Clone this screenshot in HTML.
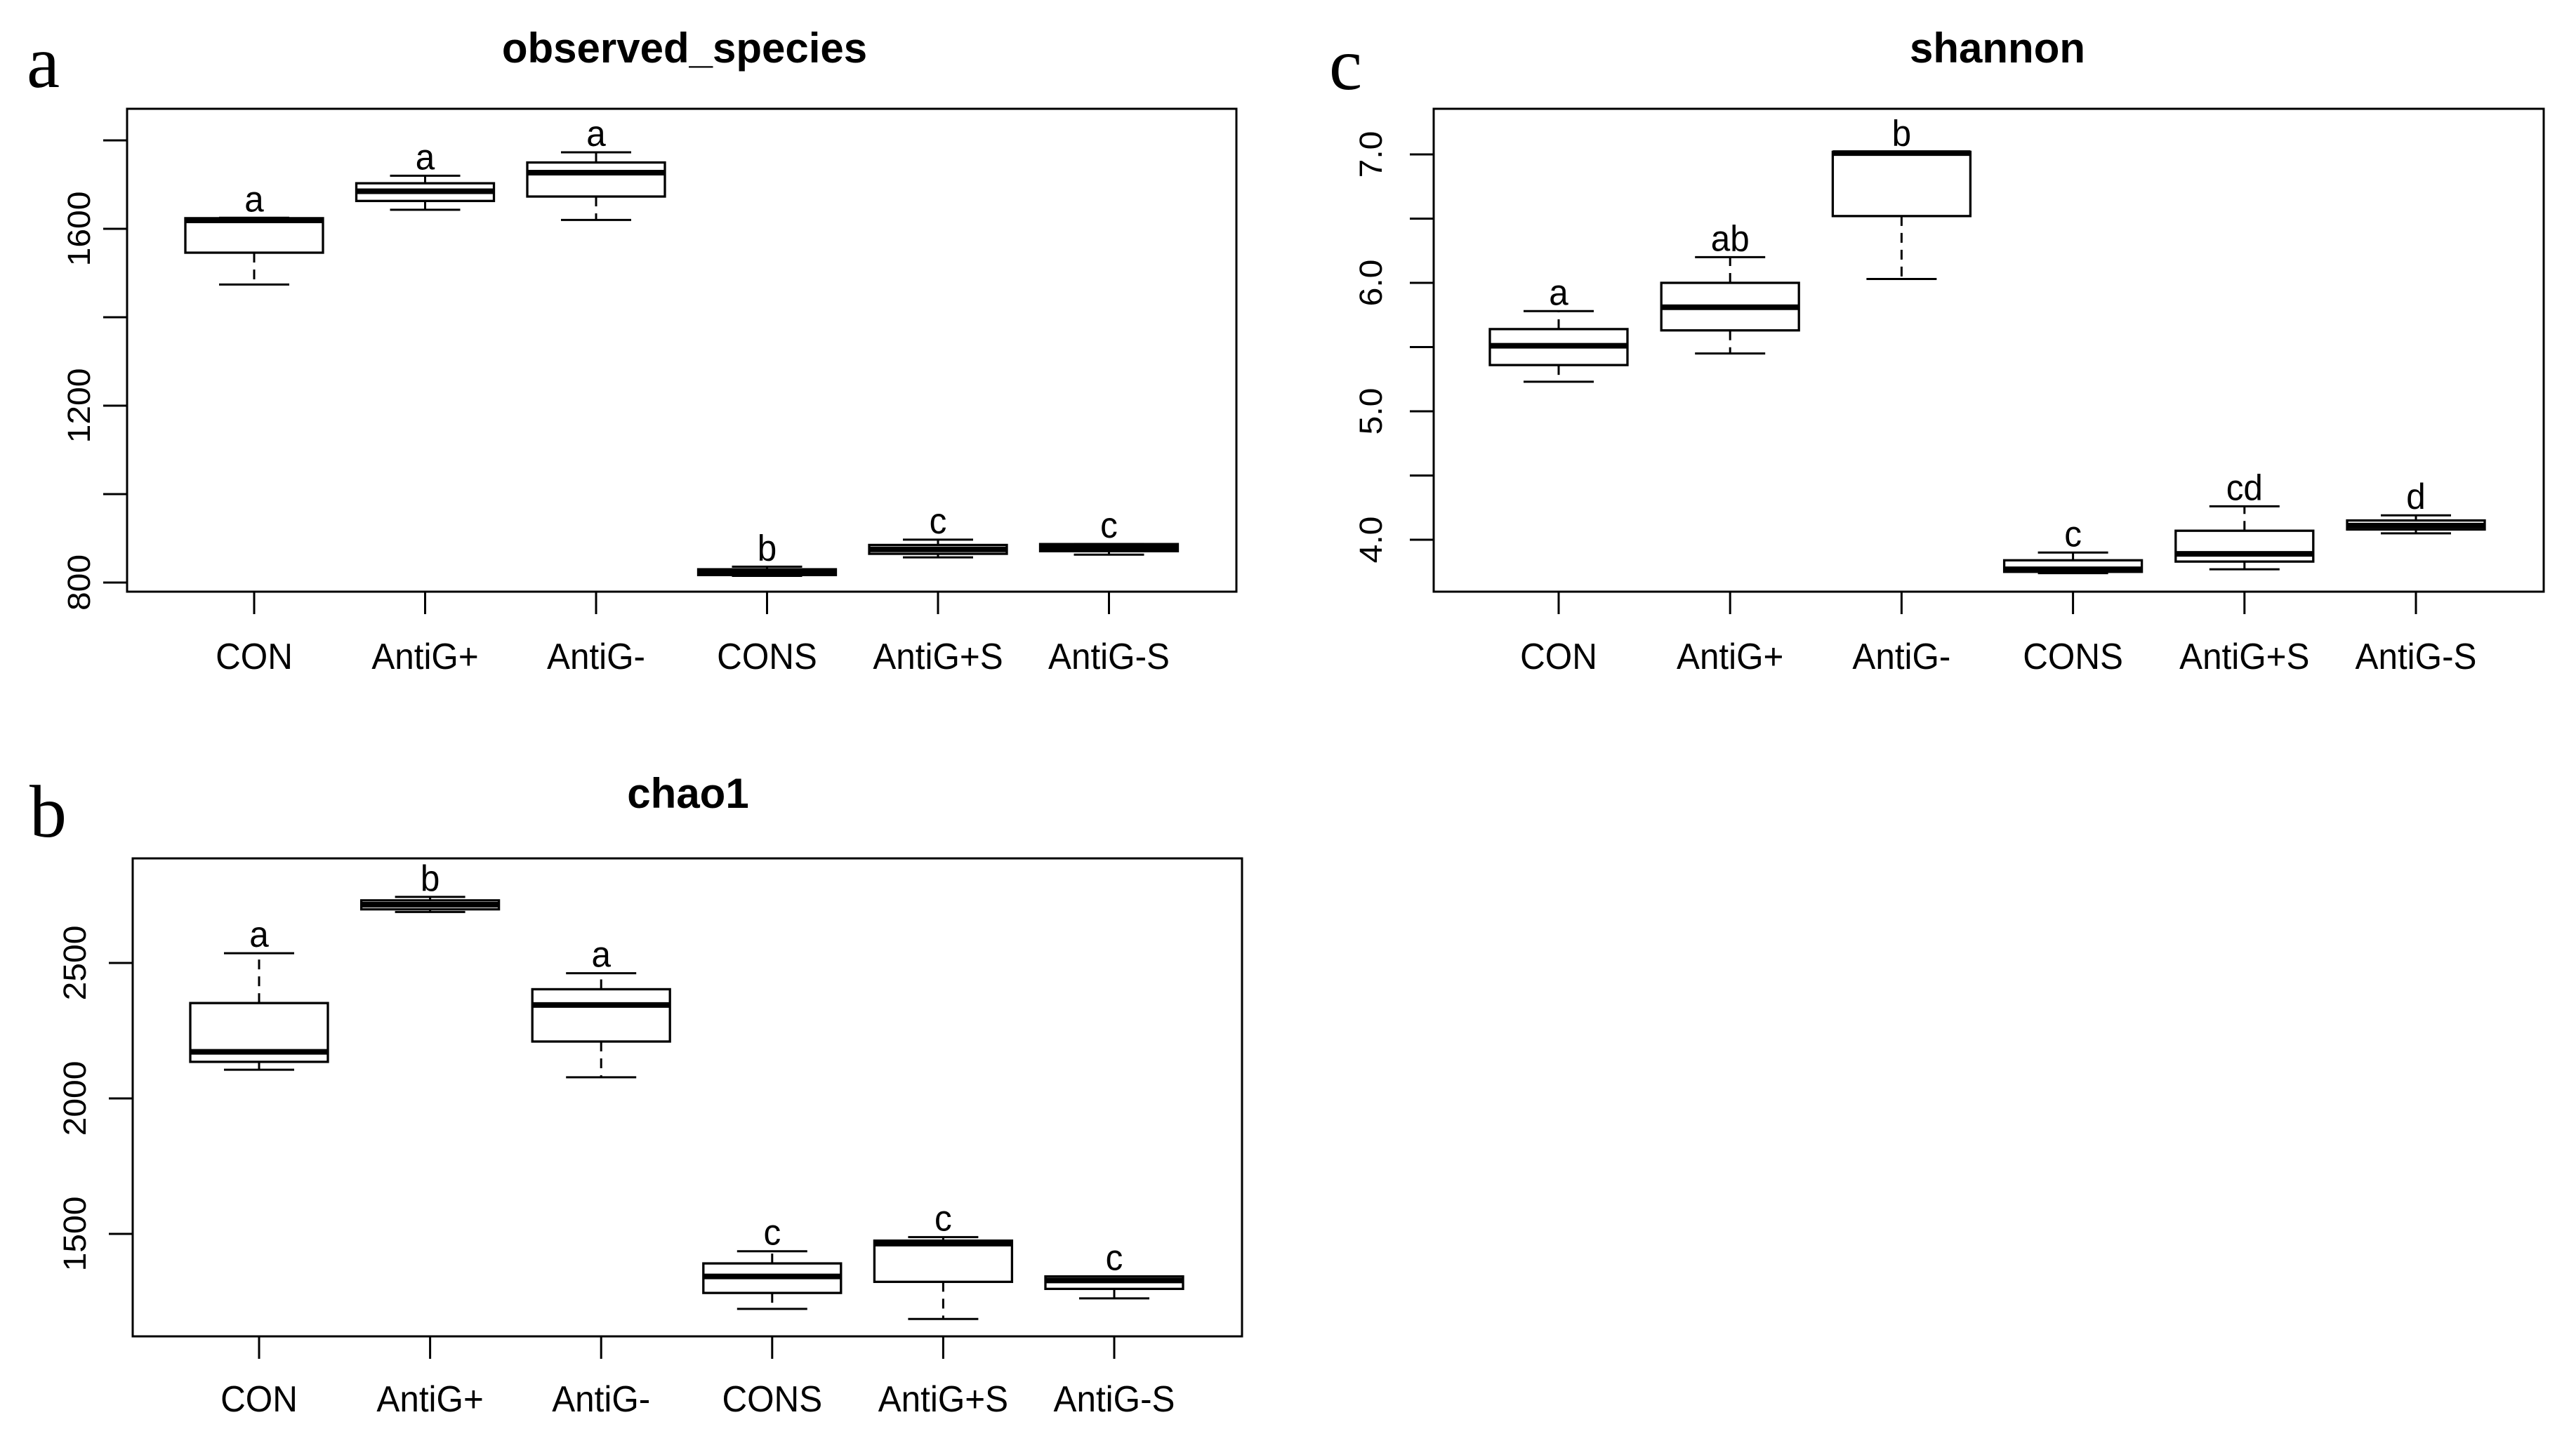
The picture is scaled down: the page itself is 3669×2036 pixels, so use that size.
<!DOCTYPE html>
<html><head><meta charset="utf-8"><style>
html,body{margin:0;padding:0;background:#fff;}
svg{display:block;}
text{font-family:"Liberation Sans",sans-serif;fill:#000;}
</style></head><body>
<svg id="chart" width="3669" height="2036" viewBox="0 0 3669 2036" xmlns="http://www.w3.org/2000/svg"></svg>
<script>
// ---- shared categories ----
const categories = ["CON","AntiG+","AntiG-","CONS","AntiG+S","AntiG-S"];

// ---- panel a: observed_species ----
const obsLow   = [1474,1643,1620,815,857,863];
const obsQ1    = [1546,1663,1673,817,865,871];
const obsMed   = [1619,1685,1727,824,875,879];
const obsQ3    = [1624,1703,1750,830,885,887];
const obsHigh  = [1625,1720,1773,836,897,887];
const obsLetters = ["a","a","a","b","c","c"];
const obsTicks = [800,1000,1200,1400,1600,1800];
const obsTickLabels = ["800","","1200","","1600",""];

// ---- panel b: chao1 ----
const chaoLow  = [2106,2688,2078,1223,1186,1262];
const chaoQ1   = [2135,2698,2210,1282,1323,1297];
const chaoMed  = [2172,2715,2345,1343,1464,1328];
const chaoQ3   = [2352,2731,2403,1391,1475,1343];
const chaoHigh = [2536,2744,2462,1436,1488,1343];
const chaoLetters = ["a","b","a","c","c","c"];
const chaoTicks = [1500,2000,2500];
const chaoTickLabels = ["1500","2000","2500"];

// ---- panel c: shannon ----
const shLow  = [5.23,5.45,6.03,3.74,3.77,4.05];
const shQ1   = [5.36,5.63,6.52,3.75,3.83,4.08];
const shMed  = [5.51,5.81,7.01,3.77,3.89,4.11];
const shQ3   = [5.64,6.00,7.02,3.84,4.07,4.15];
const shHigh = [5.78,6.20,7.02,3.90,4.26,4.19];
const shLetters = ["a","ab","b","c","cd","d"];
const shTicks = [4.0,4.5,5.0,5.5,6.0,6.5,7.0];
const shTickLabels = ["4.0","","5.0","","6.0","","7.0"];

const NS = "http://www.w3.org/2000/svg";
const svg = document.getElementById("chart");

function mk(tag, attrs, parent){
  const e = document.createElementNS(NS, tag);
  for (const k in attrs) e.setAttribute(k, attrs[k]);
  (parent||svg).appendChild(e);
  return e;
}
function txt(parent, x, y, s, size, opts){
  opts = opts||{};
  const sx = opts.sx || 0.95;
  const t = mk("text", {"font-size":size, "text-anchor":opts.anchor||"middle",
    transform:"translate("+x+","+y+") "+(opts.rot?"rotate(-90) scale(1,"+sx+")":"scale("+sx+",1)")}, parent);
  if (opts.bold) t.setAttribute("font-weight","bold");
  if (opts.serif) t.setAttribute("style","font-family:'Liberation Serif',serif");
  t.textContent = s;
  return t;
}

function panel(cfg){
  const g = mk("g", {});
  
  
  const y = v => cfg.y0 + (v - cfg.v0) / (cfg.v1 - cfg.v0) * (cfg.y1 - cfg.y0);
  const x = i => cfg.gx0 + i * cfg.gdx;

  const pl = txt(g, cfg.letterX, cfg.letterY, cfg.letter, 106, {anchor:"start", serif:true, sx:1});
  
  
  const tt = txt(g, cfg.titleX, cfg.titleY, cfg.title, 60, {bold:true, sx:1});
  
  

  const fr = mk("rect", {x:cfg.left, y:cfg.top, width:cfg.right-cfg.left, height:cfg.bottom-cfg.top, fill:"none", stroke:"#000", "stroke-width":3}, g);
  
  

  // y axis
  const ya = mk("g", {}, g);
  
  
  cfg.ticks.forEach((v,i) => {
    const ty = y(v);
    const tk = mk("line", {x1:cfg.left-34, x2:cfg.left, y1:ty, y2:ty, stroke:"#000", "stroke-width":3}, ya);
    
    
    if (cfg.tickLabels[i]) {
      const tl = txt(ya, cfg.ylabX, ty, cfg.tickLabels[i], 48, {rot:true});
      
      
    }
  });

  // x axis
  const xa = mk("g", {}, g);
  
  
  categories.forEach((c,i) => {
    const tk = mk("line", {x1:x(i), x2:x(i), y1:cfg.bottom, y2:cfg.bottom+32, stroke:"#000", "stroke-width":3}, xa);
    
    
    const tl = txt(xa, x(i), cfg.xlabY, c, 52);
    
    
  });

  // boxes
  const hw = 98, cw = 50;
  categories.forEach((c,i) => {
    const bg = mk("g", {}, g);
    
    
    const cx = x(i);
    const yl = y(cfg.low[i]), y1 = y(cfg.q1[i]), ym = y(cfg.med[i]), y3 = y(cfg.q3[i]), yh = y(cfg.high[i]);
    mk("line", {x1:cx, x2:cx, y1:y1, y2:yl, stroke:"#000", "stroke-width":3, "stroke-dasharray":"14 10"}, bg);
    mk("line", {x1:cx, x2:cx, y1:y3, y2:yh, stroke:"#000", "stroke-width":3, "stroke-dasharray":"14 10"}, bg);
    mk("line", {x1:cx-cw, x2:cx+cw, y1:yl, y2:yl, stroke:"#000", "stroke-width":3}, bg);
    mk("line", {x1:cx-cw, x2:cx+cw, y1:yh, y2:yh, stroke:"#000", "stroke-width":3}, bg);
    mk("rect", {x:cx-hw, y:y3, width:2*hw, height:Math.max(0.5, y1-y3), fill:"#fff", stroke:"#000", "stroke-width":3.3}, bg);
    mk("line", {x1:cx-hw, x2:cx+hw, y1:ym, y2:ym, stroke:"#000", "stroke-width":8}, bg);
    const lt = txt(bg, cx, Math.min(yh, y3) - 9, cfg.letters[i], 52);
    
    
  });
}

panel({name:"panel-a-observed-species", letter:"a", letterX:38, letterY:124, title:"observed_species", titleX:975, titleY:89,
  left:181, right:1761, top:155, bottom:843, v0:800, v1:1600, y0:830, y1:326,
  gx0:362, gdx:243.5, ylabX:128, xlabY:953, ticks:obsTicks, tickLabels:obsTickLabels,
  low:obsLow, q1:obsQ1, med:obsMed, q3:obsQ3, high:obsHigh, letters:obsLetters});

panel({name:"panel-b-chao1", letter:"b", letterX:42, letterY:1192, title:"chao1", titleX:980, titleY:1151,
  left:189, right:1769, top:1223, bottom:1904, v0:1500, v1:2500, y0:1758, y1:1372,
  gx0:369, gdx:243.6, ylabX:122, xlabY:2011, ticks:chaoTicks, tickLabels:chaoTickLabels,
  low:chaoLow, q1:chaoQ1, med:chaoMed, q3:chaoQ3, high:chaoHigh, letters:chaoLetters});

panel({name:"panel-c-shannon", letter:"c", letterX:1893, letterY:127, title:"shannon", titleX:2845, titleY:89,
  left:2042, right:3623, top:155, bottom:843, v0:4.0, v1:7.0, y0:769, y1:220,
  gx0:2220, gdx:244.2, ylabX:1968, xlabY:953, ticks:shTicks, tickLabels:shTickLabels,
  low:shLow, q1:shQ1, med:shMed, q3:shQ3, high:shHigh, letters:shLetters});
</script>
</body></html>
